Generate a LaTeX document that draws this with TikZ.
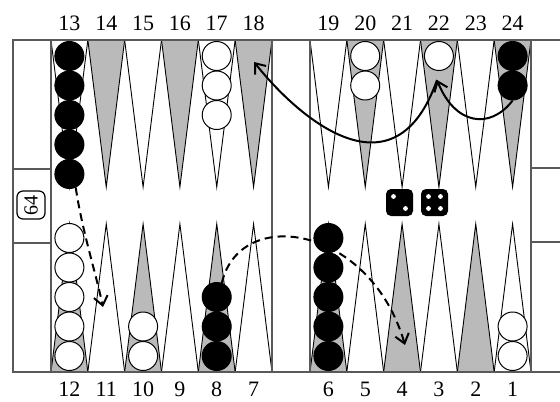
\documentclass[tikz,border=0pt]{standalone}
\usepackage{fontspec}
\setmainfont{Liberation Serif}
\usetikzlibrary{arrows.meta,positioning,calc}

\tikzset{
  frame/.style={draw=black!65, line width=0.8pt},
  pointline/.style={draw=black, line width=0.45pt},
  darkpt/.style={pointline, fill=black!27},
  lightpt/.style={pointline, fill=white},
  blackchk/.style={circle, draw=black, fill=black, line width=0.5pt, minimum size=14.5pt, inner sep=0pt},
  whitechk/.style={circle, draw=black, fill=white, line width=0.5pt, minimum size=14.5pt, inner sep=0pt},
  ptnum/.style={font=\fontsize{11}{13}\selectfont, inner sep=0pt},
  die/.style={fill=black, rounded corners=2.5pt, minimum size=13.5pt, inner sep=0pt},
  move/.style={line width=1pt, -{Straight Barb[length=4.5pt,width=7pt]}},
  altmove/.style={move, dash pattern=on 4pt off 2.5pt}
}

\begin{document}
\begin{tikzpicture}[x=0.5pt,y=-0.5pt]
\useasboundingbox[fill=white] (0,0) rectangle (560,401);

% points and numbers
\foreach \i in {0,...,5}{
  \pgfmathsetmacro{\xl}{51+36.83*\i}
  \pgfmathsetmacro{\xr}{310+36.83*\i}
  \pgfmathtruncatemacro{\ntl}{13+\i}
  \pgfmathtruncatemacro{\ntr}{19+\i}
  \pgfmathtruncatemacro{\nbl}{12-\i}
  \pgfmathtruncatemacro{\nbr}{6-\i}
  \ifodd\i \def\topst{darkpt}\def\botst{lightpt}
  \else \def\topst{lightpt}\def\botst{darkpt}\fi
  \draw[\topst] (\xl,40) -- ({\xl+18.42},187) -- ({\xl+36.83},40) -- cycle;
  \draw[\topst] (\xr,40) -- ({\xr+18.42},187) -- ({\xr+36.83},40) -- cycle;
  \draw[\botst] (\xl,372) -- ({\xl+18.42},224) -- ({\xl+36.83},372) -- cycle;
  \draw[\botst] (\xr,372) -- ({\xr+18.42},224) -- ({\xr+36.83},372) -- cycle;
  \node[ptnum] (n\ntl) at ({\xl+18.42},23) {\ntl};
  \node[ptnum] (n\ntr) at ({\xr+18.42},23) {\ntr};
  \node[ptnum] (n\nbl) at ({\xl+18.42},389) {\nbl};
  \node[ptnum] (n\nbr) at ({\xr+18.42},389) {\nbr};
}

% board frame
\draw[frame] (560,40) -- (13,40) -- (13,372) -- (560,372);
\draw[frame] (51,40) -- (51,372) (272,40) -- (272,372);
\draw[frame] (310,40) -- (310,372) (531,40) -- (531,372);
\draw[frame] (13,169) -- (51,169) (13,243) -- (51,243);
\draw[frame] (531,168) -- (560,168) (531,242) -- (560,242);

% doubling cube
\node[draw, line width=0.6pt, rounded corners=3pt, minimum width=14pt, minimum height=14pt,
  inner sep=0pt, rotate=90, font=\fontsize{10}{11}\selectfont] (cube) at (31,205) {64};

% checkers
\foreach \p/\xc/\m/\st in {13/69.4/5/blackchk, 17/216.7/3/whitechk, 20/365.2/2/whitechk,
    22/438.9/1/whitechk, 24/512.6/2/blackchk}
  \foreach \k in {1,...,\m}
    \node[\st] (c\p-\k) at (\xc,{56+29.5*(\k-1)}) {};
\foreach \p/\xc/\m/\st in {12/69.4/5/whitechk, 10/143.1/2/whitechk, 8/216.7/3/blackchk,
    6/328.4/5/blackchk, 1/512.6/2/whitechk}
  \foreach \k in {1,...,\m}
    \node[\st] (c\p-\k) at (\xc,{356-29.5*(\k-1)}) {};

% dice
\node[die] (die1) at (399.5,202.5) {};
\node[die] (die2) at (434.5,202.5) {};
\fill[white] ($(die1)+(-6,-6)$) circle (1.2pt) ($(die1)+(6,6)$) circle (1.2pt);
\foreach \dx/\dy in {-6/-6,6/-6,-6/6,6/6}
  \fill[white] ($(die2)+(\dx,\dy)$) circle (1.2pt);

% moves
\coordinate (to22) at (437,80);
\coordinate (to18) at (254,62);
\coordinate (to11) at (103,307);
\coordinate (to4) at (405,345);
\draw[move] (c24-2.south) .. controls (490,130) and (455,125) .. (to22);
\draw[move] (to22) .. controls (395,200) and (300,120) .. (to18);
\draw[altmove] (c13-5.-65) .. controls (82,230) and (95,270) .. (to11);
\draw[altmove] (c8-3.70) .. controls (240,205) and (370,225) .. (to4);
\end{tikzpicture}
\end{document}
